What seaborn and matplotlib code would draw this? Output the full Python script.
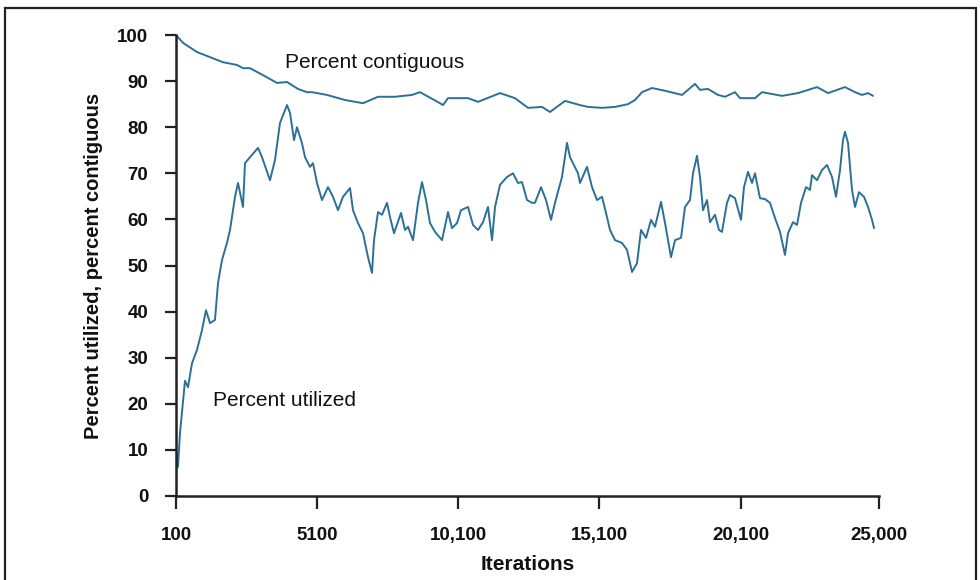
import matplotlib
matplotlib.use("Agg")
import matplotlib.pyplot as plt
import matplotlib.ticker as mticker
from matplotlib.patches import Rectangle
import pandas as pd
import seaborn as sns

# Percent utilized over iterations
util_iter = [100, 170, 242, 419, 525, 667, 844, 1021, 1163, 1304, 1481, 1588, 1729, 1906,
             2013, 2190, 2296, 2473, 2544, 2721, 3004, 3146, 3429, 3606, 3783, 4032, 4138,
             4280, 4386, 4563, 4669, 4846, 4952, 5094, 5271, 5484, 5661, 5838, 6015, 6263,
             6369, 6546, 6724, 6901, 7042, 7113, 7255, 7397, 7574, 7680, 7822, 8070, 8211,
             8317, 8495, 8672, 8813, 8955, 9097, 9274, 9522, 9734, 9876, 10053, 10195,
             10443, 10620, 10797, 10974, 11151, 11293, 11400, 11576, 11824, 12037, 12214,
             12355, 12532, 12710, 12816, 13028, 13205, 13383, 13524, 13772, 13949, 14055,
             14162, 14339, 14410, 14658, 14835, 15012, 15189, 15366, 15472, 15650, 15897,
             16074, 16252, 16429, 16571, 16748, 16925, 17066, 17279, 17421, 17633, 17775,
             17987, 18129, 18306, 18412, 18554, 18660, 18766, 18908, 19014, 19191, 19333,
             19439, 19616, 19722, 19899, 20112, 20218, 20360, 20502, 20608, 20785, 20962,
             21139, 21316, 21493, 21670, 21777, 21954, 22096, 22238, 22415, 22556, 22627,
             22804, 22981, 23158, 23336, 23477, 23619, 23725, 23796, 23902, 24044, 24150,
             24292, 24469, 24611, 24753, 24824]
util_pct = [10.0, 6.3, 13.7, 25.0, 23.6, 28.8, 31.7, 36.0, 40.3, 37.5, 38.2, 46.2, 51.2, 54.9,
            57.7, 64.9, 67.9, 62.7, 72.2, 73.5, 75.5, 73.5, 68.5, 72.9, 80.9, 84.8, 83.1,
            77.2, 80.0, 76.5, 73.5, 71.4, 72.2, 67.9, 64.2, 67.0, 64.9, 62.0, 64.9, 66.8,
            62.0, 59.2, 57.0, 51.8, 48.4, 55.5, 61.6, 61.0, 63.6, 60.5, 57.0, 61.4, 57.7,
            58.4, 55.5, 63.6, 68.1, 64.2, 59.2, 57.3, 55.5, 61.6, 58.1, 59.2, 62.0,
            62.7, 58.8, 57.7, 59.4, 62.7, 55.5, 62.7, 67.5, 69.2, 70.0, 67.9,
            68.1, 64.2, 63.6, 63.6, 67.0, 64.2, 59.9, 63.6, 69.2, 76.6, 73.5,
            72.2, 70.0, 67.9, 71.4, 67.0, 64.2, 64.9, 60.5, 57.7, 55.5, 54.9,
            53.4, 48.6, 50.5, 57.7, 56.0, 59.9, 58.4, 63.8, 59.2, 51.8, 55.5,
            56.0, 62.7, 64.2, 70.0, 73.8, 69.2, 62.0, 64.2, 59.4, 61.0, 57.7,
            57.3, 63.6, 65.3, 64.6, 59.9, 67.0, 70.3, 67.9, 70.0, 64.6, 64.4,
            63.6, 60.3, 57.3, 52.3, 57.0, 59.4, 58.8, 63.6, 67.0, 66.4, 69.6,
            68.5, 70.7, 71.8, 69.2, 64.9, 70.7, 77.2, 79.0, 76.6, 66.4, 62.7,
            65.9, 64.9, 62.7, 59.9, 58.1]

# Percent contiguous over iterations
contig_iter = [100, 348, 844, 1304, 1552, 1765, 2261, 2473, 2721, 3181, 3677, 4032, 4421,
               4740, 4917, 5448, 6086, 6724, 7255, 7857, 8459, 8743, 9451, 9557, 9734,
               10443, 10797, 11576, 12107, 12568, 13064, 13347, 13878, 14410, 14693, 15189,
               15650, 16110, 16358, 16606, 16960, 17421, 18023, 18483, 18660, 18943, 19298,
               19546, 19899, 20077, 20608, 20856, 21564, 22131, 22804, 23194, 23796, 24150,
               24398, 24611, 24788]
contig_pct = [100.0, 98.3, 96.3, 95.2, 94.6, 94.1, 93.5, 92.8, 92.8, 91.3, 89.6, 89.8, 88.3,
              87.6, 87.6, 87.0, 85.9, 85.2, 86.6, 86.6, 87.0, 87.6, 85.2, 84.8, 86.3,
              86.3, 85.5, 87.4, 86.3, 84.2, 84.4, 83.3, 85.7, 84.8, 84.4, 84.2,
              84.4, 85.0, 85.9, 87.6, 88.5, 87.9, 87.0, 89.4, 88.1, 88.3, 87.0,
              86.6, 87.6, 86.3, 86.3, 87.6, 86.8, 87.4, 88.7, 87.4, 88.7, 87.6,
              87.0, 87.4, 86.8]

x_ticks = [100, 5100, 10100, 15100, 20100, 25000]
x_tick_labels = ["100", "5100", "10,100", "15,100", "20,100", "25,000"]
y_ticks = list(range(0, 101, 10))

sns.set_style("ticks")
plt.rcParams["font.family"] = ["Liberation Sans", "DejaVu Sans"]

line_color = "#2b7196"
ink = "#111111"

fig = plt.figure(figsize=(9.8, 5.8), dpi=100)
ax = fig.add_axes([176 / 980, 1 - 496 / 580, (879 - 176) / 980, (496 - 35) / 580])

util_df = pd.DataFrame({"Iterations": util_iter, "Percent": util_pct})
contig_df = pd.DataFrame({"Iterations": contig_iter, "Percent": contig_pct})
sns.lineplot(data=util_df, x="Iterations", y="Percent", ax=ax, color=line_color,
             linewidth=1.4, estimator=None, sort=False)
sns.lineplot(data=contig_df, x="Iterations", y="Percent", ax=ax, color=line_color,
             linewidth=1.4, estimator=None, sort=False)

ax.set_xlim(100, 25000)
ax.set_ylim(0, 100)
ax.set_xticks(x_ticks)
ax.set_xticklabels(x_tick_labels)
ax.set_yticks(y_ticks)
ax.yaxis.set_major_formatter(mticker.FormatStrFormatter("%d"))

ax.tick_params(axis="x", direction="out", length=9, width=1.6, pad=13, colors="#222222",
               labelsize=13.5, labelcolor=ink)
ax.tick_params(axis="y", direction="out", length=8, width=1.6, pad=12, colors="#222222",
               labelsize=13.5, labelcolor=ink)
for lab in ax.get_xticklabels() + ax.get_yticklabels():
    lab.set_fontweight("bold")

sns.despine(ax=ax)
for side in ("left", "bottom"):
    ax.spines[side].set_linewidth(1.8)
    ax.spines[side].set_color("#222222")

ax.set_xlabel("Iterations", fontsize=15, fontweight="bold", labelpad=8, color=ink)
ax.set_ylabel("Percent utilized, percent contiguous", fontsize=14.5, fontweight="bold",
              labelpad=10, color=ink)

ax.text(7150, 94.1, "Percent contiguous", fontsize=15, color=ink,
        ha="center", va="center")
ax.text(3960, 20.8, "Percent utilized", fontsize=15, color=ink,
        ha="center", va="center")

# outer frame around the figure
fig.patches.append(Rectangle((5 / 980, -0.05), (976 - 5) / 980, 1.05 - 8 / 580,
                             transform=fig.transFigure, fill=False,
                             edgecolor="#222222", linewidth=1.6))

fig.savefig("out.png", dpi=100)
